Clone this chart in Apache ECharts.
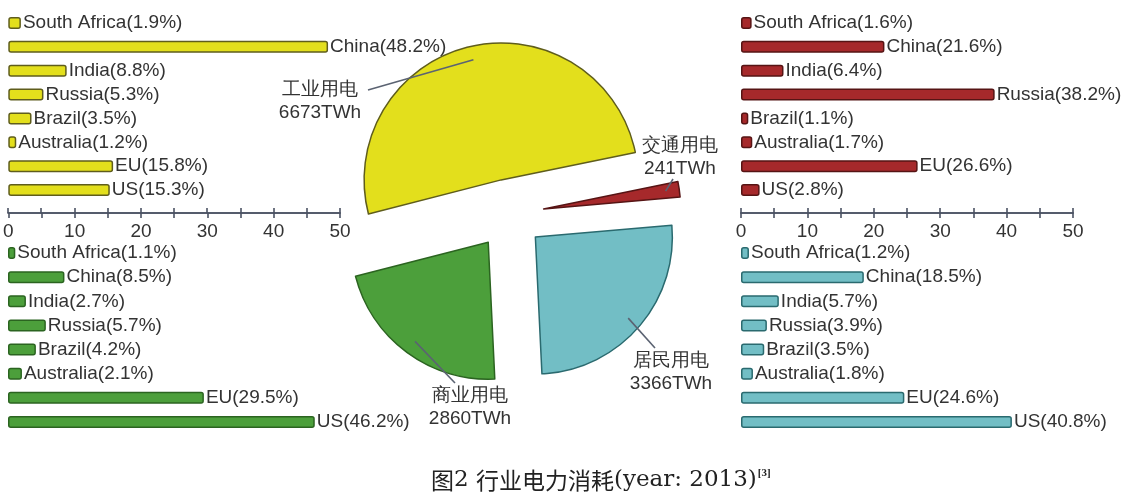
<!DOCTYPE html>
<html><head><meta charset="utf-8">
<script src="https://cdn.jsdelivr.net/npm/echarts@6/dist/echarts.min.js"></script>
<style>html,body{margin:0;padding:0;background:#fff}#c{width:1123px;height:499px}</style>
</head><body><div id="c"></div>
<script>
const countries = ['South Africa','China','India','Russia','Brazil','Australia','EU','US'];
const industryShare = [1.9, 48.2, 8.8, 5.3, 3.5, 1.2, 15.8, 15.3];
const transportShare = [1.6, 21.6, 6.4, 38.2, 1.1, 1.7, 26.6, 2.8];
const commercialShare = [1.1, 8.5, 2.7, 5.7, 4.2, 2.1, 29.5, 46.2];
const residentialShare = [1.2, 18.5, 5.7, 3.9, 3.5, 1.8, 24.6, 40.8];
const sectorNames = ['工业用电', '交通用电', '居民用电', '商业用电'];
const sectorTWh = [6673, 241, 3366, 2860];
const axisTickLabels = [0, 10, 20, 30, 40, 50];

const FONT = '"Liberation Sans", Arial, sans-serif';
const colors = {
  ind: ['#e3df1c', '#5f5d1c'],
  tra: ['#a6292b', '#561414'],
  com: ['#4c9f3b', '#2b6420'],
  res: ['#72bec5', '#2a6a6f']
};
const axisColor = '#4b5263';

function xAx(grid, pos, offset, showLabel) {
  return {
    gridIndex: grid, type: 'value', min: 0, max: 50, interval: 5, position: pos, offset: offset,
    axisLine: {show: true, lineStyle: {color: axisColor, width: 1.6}},
    axisTick: {show: true, length: 5, lineStyle: {color: axisColor, width: 1.6}},
    splitLine: {show: false},
    axisLabel: {show: showLabel, margin: 9, fontSize: 19, color: '#333', fontFamily: FONT,
      formatter: v => axisTickLabels.includes(v) ? String(v) : ''}
  };
}
function yAx(grid) {
  return {gridIndex: grid, type: 'category', data: countries, inverse: true, show: false};
}
function barSeries(idx, data, c) {
  return {
    type: 'bar', xAxisIndex: idx, yAxisIndex: idx, data: data, barWidth: 12,
    itemStyle: {color: c[0], borderColor: c[1], borderWidth: 1.5, borderRadius: 2},
    label: {show: true, position: 'right', distance: 2, fontSize: 19, color: '#333', fontFamily: FONT,
      formatter: p => countries[p.dataIndex] + '(' + p.value + '%)'}
  };
}

// pie geometry
const pieCenter = [509, 214];
const pieRadius = 137;
const pieStart = 194.4;
const explode = 35;
const labelPos = [[320, 101], [680, 157], [671, 372], [470, 407]];
const leaderEnd = [[368, 90], [673, 179], [655, 348], [455, 383]];
const pieColors = [colors.ind, colors.tra, colors.res, colors.com];
const total = sectorTWh.reduce((a, b) => a + b, 0);

function sliceGeom(k) {
  let acc = 0;
  for (let i = 0; i < k; i++) acc += sectorTWh[i];
  const mid = (pieStart - (acc + sectorTWh[k] / 2) / total * 360) * Math.PI / 180;
  const center = [pieCenter[0] + explode * Math.cos(mid), pieCenter[1] - explode * Math.sin(mid)];
  return {mid, center};
}

function pieSeries(k) {
  const g = sliceGeom(k);
  return {
    type: 'pie', center: g.center, radius: pieRadius, startAngle: pieStart, clockwise: true,
    silent: true, emphasis: {disabled: true}, z: 3,
    data: sectorNames.map((n, i) => {
      const on = i === k;
      return {
        name: n, value: sectorTWh[i],
        itemStyle: on ? {color: pieColors[i][0], borderColor: pieColors[i][1], borderWidth: 1.5}
                      : {color: 'rgba(0,0,0,0)', borderWidth: 0},
        label: {show: on}
      };
    }),
    label: {formatter: '{b}\n{c}TWh', fontSize: 19, lineHeight: 23, color: '#333', fontFamily: FONT, align: 'center'},
    labelLine: {show: false},
    labelLayout: function (p) {
      if (p.dataIndex !== k) return {};
      const pos = labelPos[k];
      return {x: pos[0], y: pos[1], align: 'center', verticalAlign: 'middle'};
    }
  };
}

// leader lines: from inside each slice (0.9 R on its bisector) to its label
const leaders = sectorNames.map((n, k) => {
  const g = sliceGeom(k);
  const r = pieRadius * 0.9;
  const sx = g.center[0] + r * Math.cos(g.mid), sy = g.center[1] - r * Math.sin(g.mid);
  return {
    type: 'line', z: 10, silent: true,
    shape: {x1: sx, y1: sy, x2: leaderEnd[k][0], y2: leaderEnd[k][1]},
    style: {stroke: '#5b6372', lineWidth: 1.6}
  };
});

const option = {
  animation: false,
  backgroundColor: '#fff',
  title: {
    text: '{cn|图}{en|2 }{cn|行业电力消耗}{en|(year: 2013)}{sup|[3]}',
    left: 426, top: 463,
    textStyle: {
      rich: {
        cn: {fontFamily: '"Noto Sans CJK SC", sans-serif', fontSize: 23, color: '#222', fontWeight: 'normal'},
        en: {fontFamily: '"DejaVu Serif", serif', fontSize: 23, color: '#222', fontWeight: 'normal'},
        sup: {fontFamily: '"Liberation Serif", serif', fontSize: 11, color: '#222', verticalAlign: 'top', padding: [0, 0, 14, 1]}
      }
    }
  },
  graphic: leaders,
  grid: [
    {left: 8, top: 11, width: 332, height: 191},
    {left: 8, top: 241, width: 332, height: 193},
    {left: 741, top: 11, width: 332, height: 191},
    {left: 741, top: 241, width: 332, height: 193}
  ],
  xAxis: [xAx(0, 'bottom', 11, true), xAx(1, 'top', 28, false), xAx(2, 'bottom', 11, true), xAx(3, 'top', 28, false)],
  yAxis: [yAx(0), yAx(1), yAx(2), yAx(3)],
  series: [
    barSeries(0, industryShare, colors.ind),
    barSeries(1, commercialShare, colors.com),
    barSeries(2, transportShare, colors.tra),
    barSeries(3, residentialShare, colors.res),
    pieSeries(0), pieSeries(1), pieSeries(2), pieSeries(3)
  ]
};
const chart = echarts.init(document.getElementById('c'), null, {renderer: 'canvas'});
chart.setOption(option);
</script>
</body></html>
